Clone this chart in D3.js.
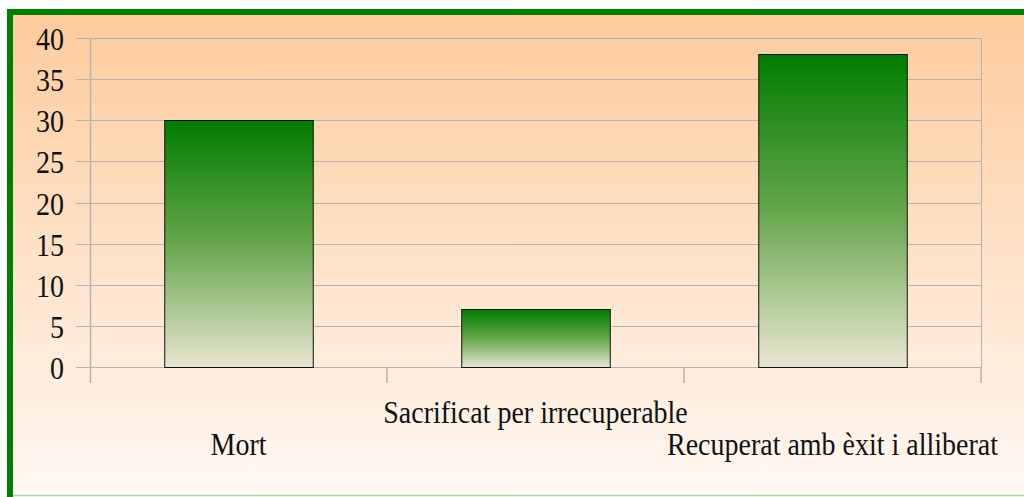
<!DOCTYPE html>
<html>
<head>
<meta charset="utf-8">
<script src="https://cdn.jsdelivr.net/npm/d3@7"></script>
<style>
  body { margin: 0; background: #fff; }
  svg { display: block; }
  text { font-family: "Liberation Serif", serif; fill: #111; }
</style>
</head>
<body>
<svg id="chart" width="1024" height="497"></svg>
<script>
const categories = ['Mort', 'Sacrificat per irrecuperable', 'Recuperat amb èxit i alliberat'];
const values = [30, 7, 38];
const yTicks = [0, 5, 10, 15, 20, 25, 30, 35, 40];

const svg = d3.select('#chart');
const defs = svg.append('defs');

// page background, peach to near white
const bg = defs.append('linearGradient').attr('id', 'bg').attr('x1', 0).attr('y1', 0).attr('x2', 0).attr('y2', 1);
bg.append('stop').attr('offset', 0).attr('stop-color', '#fdcb9c');
bg.append('stop').attr('offset', 1).attr('stop-color', '#fffaf6');

const barGrad = defs.append('linearGradient').attr('id', 'bar').attr('x1', 0).attr('y1', 0).attr('x2', 0).attr('y2', 1);
barGrad.append('stop').attr('offset', 0).attr('stop-color', '#007d00');
barGrad.append('stop').attr('offset', 0.5).attr('stop-color', '#66a64c');
barGrad.append('stop').attr('offset', 1).attr('stop-color', '#e9e6d2');

svg.append('rect').attr('x', 10).attr('y', 12).attr('width', 1030).attr('height', 500)
  .attr('fill', 'url(#bg)');
svg.append('line').attr('x1', 10).attr('x2', 1024).attr('y1', 495.5).attr('y2', 495.5)
  .attr('stroke', '#a8d8a0').attr('stroke-width', 1.5);
svg.append('path').attr('d', 'M10,497 V12 H1030')
  .attr('fill', 'none').attr('stroke', '#008000').attr('stroke-width', 6);

const plotL = 90, plotR = 981, plotT = 38, plotB = 367;

const x = d3.scaleBand().domain(categories).range([plotL, plotR]).paddingInner(0.5).paddingOuter(0.25);
const xc = d3.scaleBand().domain(categories).range([plotL, plotR]);
const y = d3.scaleLinear().domain([0, 40]).range([plotB, plotT]);

const g = svg.append('g');

// horizontal grid
g.selectAll('.grid').data(yTicks).join('line')
  .attr('x1', plotL - 14).attr('x2', plotR)
  .attr('y1', d => Math.round(y(d)) + 0.5).attr('y2', d => Math.round(y(d)) + 0.5)
  .attr('stroke', '#b3b3b3').attr('stroke-width', 1);

// y axis line
g.append('line').attr('x1', plotL + 0.5).attr('x2', plotL + 0.5).attr('y1', plotT).attr('y2', plotB + 16)
  .attr('stroke', '#b3b3b3').attr('stroke-width', 1.5);

// category ticks
g.selectAll('.ctick').data(categories).join('line')
  .attr('x1', d => xc(d) + xc.bandwidth()).attr('x2', d => xc(d) + xc.bandwidth())
  .attr('y1', plotB).attr('y2', plotB + 16)
  .attr('stroke', '#b3b3b3').attr('stroke-width', 1.5);

// right edge line
g.append('line').attr('x1', plotR + 0.5).attr('x2', plotR + 0.5).attr('y1', plotT).attr('y2', plotB)
  .attr('stroke', '#b3b3b3').attr('stroke-width', 1);

// bars
g.selectAll('.bar').data(values).join('rect')
  .attr('x', (d, i) => x(categories[i]) + 0.5)
  .attr('y', d => Math.round(y(d)) + 0.5)
  .attr('width', x.bandwidth())
  .attr('height', d => Math.round(y(0)) - Math.round(y(d)))
  .attr('fill', 'url(#bar)')
  .attr('stroke', '#111').attr('stroke-width', 1);

// y labels (text is a bit taller than wide in the original)
g.selectAll('.ylab').data(yTicks).join('text')
  .attr('transform', d => `translate(64,${y(d) + 12}) scale(1,1.1)`)
  .attr('text-anchor', 'end').attr('font-size', 28)
  .text(d => d);

// category labels, staggered
g.selectAll('.xlab').data(categories).join('text')
  .attr('transform', (d, i) => `translate(${xc(d) + xc.bandwidth() / 2},${i % 2 === 1 ? 423 : 455}) scale(1,1.1)`)
  .attr('text-anchor', 'middle').attr('font-size', 28)
  .text(d => d);
</script>
</body>
</html>
